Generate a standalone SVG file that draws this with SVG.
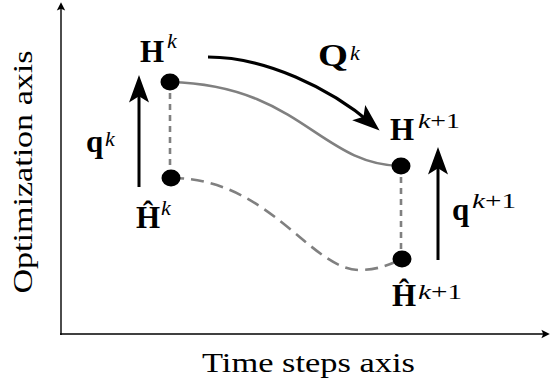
<svg xmlns="http://www.w3.org/2000/svg" width="551" height="382" viewBox="0 0 551 382">
<style>
text{font-family:'Liberation Serif','Times New Roman',Times,serif}
.m{font-weight:bold;font-size:31px;fill:#000}
.s{font-style:italic;font-size:22px;fill:#000}
.r{font-size:22px;fill:#000}
.lab{font-size:28px;fill:#000}
.ax{stroke:#000;stroke-width:1.4;fill:none}
.arr{stroke:#000;stroke-width:3;fill:none;marker-end:url(#big)}
.gs{stroke:#808080;stroke-width:2.6;fill:none}
.gd{stroke:#808080;stroke-width:2.6;fill:none;stroke-dasharray:13,7}
.gv{stroke:#808080;stroke-width:2.6;fill:none;stroke-dasharray:6,5}
.dot{fill:#000}
</style>
<defs>
<marker id="big" markerUnits="userSpaceOnUse" markerWidth="30" markerHeight="30" refX="14" refY="0" viewBox="0 -10 24 20" orient="auto" overflow="visible">
<path d="M22,0 L0,-8 L5,0 L0,8 Z" fill="#000"/>
</marker>
<marker id="small" markerUnits="userSpaceOnUse" markerWidth="12" markerHeight="12" refX="3" refY="0" viewBox="0 -5 10 10" orient="auto" overflow="visible">
<path d="M7,0 L0,-3.5 L1.5,0 L0,3.5 Z" fill="#000"/>
</marker>
</defs>
<g id="axes">
<line class="ax" x1="61" y1="335" x2="61" y2="7" marker-end="url(#small)"/>
<line class="ax" x1="60" y1="334" x2="545" y2="334" marker-end="url(#small)"/>
<text class="lab" transform="translate(32,172) rotate(-90)" text-anchor="middle" textLength="243" lengthAdjust="spacingAndGlyphs">Optimization axis</text>
<text class="lab" x="308.5" y="372" text-anchor="middle" textLength="213" lengthAdjust="spacingAndGlyphs">Time steps axis</text>
</g>
<g id="connectors">
<path class="gs" d="M170,82 C300,85 320,165 401,166"/>
<path class="gd" d="M171,178 C270,178 310,270 360,270 C380,270 395,262 402,259"/>
<line class="gv" x1="170" y1="82" x2="170" y2="178"/>
<line class="gv" x1="401" y1="166" x2="401" y2="259"/>
<line class="arr" x1="139" y1="187" x2="139" y2="85"/>
<line class="arr" x1="438" y1="260" x2="438" y2="157"/>
<path class="arr" d="M208,57 C265,57 330,88 372,124"/>
</g>
<g id="Hk">
<ellipse class="dot" cx="170" cy="82" rx="9.5" ry="8.5"/>
<text class="m" x="140" y="62">H</text><text class="s" x="167" y="48">k</text>
</g>
<g id="Hhatk">
<ellipse class="dot" cx="171" cy="178" rx="9.5" ry="8.5"/>
<text class="m" x="136" y="228">Ĥ</text><text class="s" x="161" y="215">k</text>
</g>
<g id="Hk1">
<ellipse class="dot" cx="401" cy="166" rx="9.5" ry="8.5"/>
<text class="m" x="390" y="140">H</text><text x="418" y="128" textLength="42" lengthAdjust="spacingAndGlyphs"><tspan class="s">k</tspan><tspan class="r">+1</tspan></text>
</g>
<g id="Hhatk1">
<ellipse class="dot" cx="402" cy="259" rx="9.5" ry="8.5"/>
<text class="m" x="392" y="306">Ĥ</text><text x="418" y="299" textLength="44" lengthAdjust="spacingAndGlyphs"><tspan class="s">k</tspan><tspan class="r">+1</tspan></text>
</g>
<g id="qk">
<text class="m" x="86" y="152">q</text><text class="s" x="105" y="146">k</text>
</g>
<g id="qk1">
<text class="m" x="452" y="220">q</text><text x="472" y="208" textLength="44" lengthAdjust="spacingAndGlyphs"><tspan class="s">k</tspan><tspan class="r">+1</tspan></text>
</g>
<g id="Qk">
<text class="m" x="318" y="66" textLength="30" lengthAdjust="spacingAndGlyphs">Q</text><text class="s" x="350" y="60">k</text>
</g>
</svg>
